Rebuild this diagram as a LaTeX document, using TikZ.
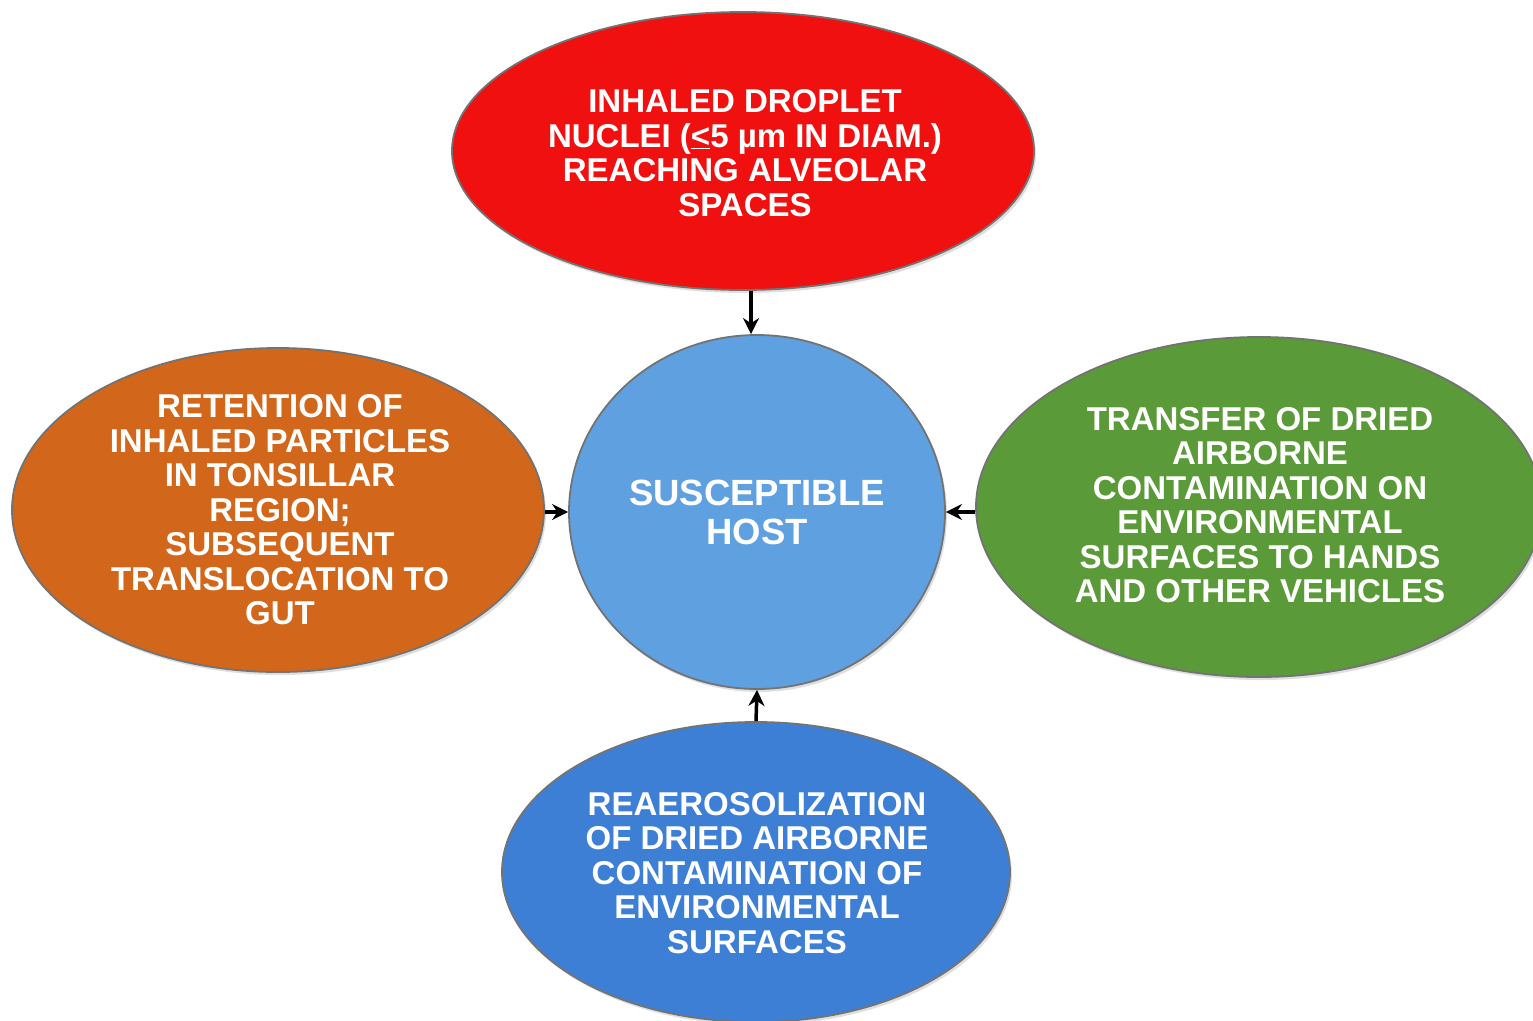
\documentclass[tikz,border=0pt]{standalone}
\usepackage{fontspec}
\setmainfont{Liberation Sans}
\usetikzlibrary{shapes.geometric,arrows.meta,shadows}
\definecolor{cred}{HTML}{F01010}
\definecolor{chost}{HTML}{5FA0E0}
\definecolor{corange}{HTML}{D2661A}
\definecolor{cgreen}{HTML}{5A9A38}
\definecolor{cblue}{HTML}{3E7FD6}
\tikzset{
  bub/.style={ellipse, draw=black!55, line width=1.8pt, inner sep=0pt,
    drop shadow={shadow xshift=2pt, shadow yshift=-3pt, opacity=0.25}},
  txt/.style={text=white, align=center, font=\bfseries\fontsize{33}{34.5}\selectfont},
  arr/.style={-{Stealth[length=16pt,width=16pt]}, line width=3.5pt, black}
}
\begin{document}
\begin{tikzpicture}[x=1pt,y=-1pt]
\useasboundingbox (0,0) rectangle (1533,1020);
\clip (0,0) rectangle (1533,1020);
\fill[white] (0,0) rectangle (1533,1020);
% nodes
\node[bub, fill=cred, minimum width=582pt, minimum height=278pt] (top) at (743,151) {};
\node[bub, fill=chost, minimum width=376pt, minimum height=354pt] (host) at (757,512) {};
\node[bub, fill=corange, minimum width=532pt, minimum height=324pt] (left) at (278,510) {};
\node[bub, fill=cgreen, minimum width=566pt, minimum height=340pt] (right) at (1259,507) {};
\node[bub, fill=cblue, minimum width=508pt, minimum height=300pt] (bot) at (756,872) {};
% texts
\node[txt] (toptxt) at (745,153) {INHALED DROPLET\\NUCLEI (\underline{<}5 µm IN DIAM.)\\REACHING ALVEOLAR\\SPACES};
\node[txt, font=\bfseries\fontsize{36.5}{39}\selectfont] (hosttxt) at (757,512) {SUSCEPTIBLE\\HOST};
\node[txt] (lefttxt) at (280,510) {RETENTION OF\\INHALED PARTICLES\\IN TONSILLAR\\REGION;\\SUBSEQUENT\\TRANSLOCATION TO\\GUT};
\node[txt] (righttxt) at (1260,505) {TRANSFER OF DRIED\\AIRBORNE\\CONTAMINATION ON\\ENVIRONMENTAL\\SURFACES TO HANDS\\AND OTHER VEHICLES};
\node[txt] (bottxt) at (757,873) {REAEROSOLIZATION\\OF DRIED AIRBORNE\\CONTAMINATION OF\\ENVIRONMENTAL\\SURFACES};
% arrows
\draw[arr] ([xshift=-6pt]host.north |- top.south) -- ([xshift=-6pt]host.north);
\draw[arr] (left.east |- host.west) -- (host.west);
\draw[arr] (right.west |- host.east) -- (host.east);
\draw[arr] (bot.north) -- (host.south);
\end{tikzpicture}
\end{document}
